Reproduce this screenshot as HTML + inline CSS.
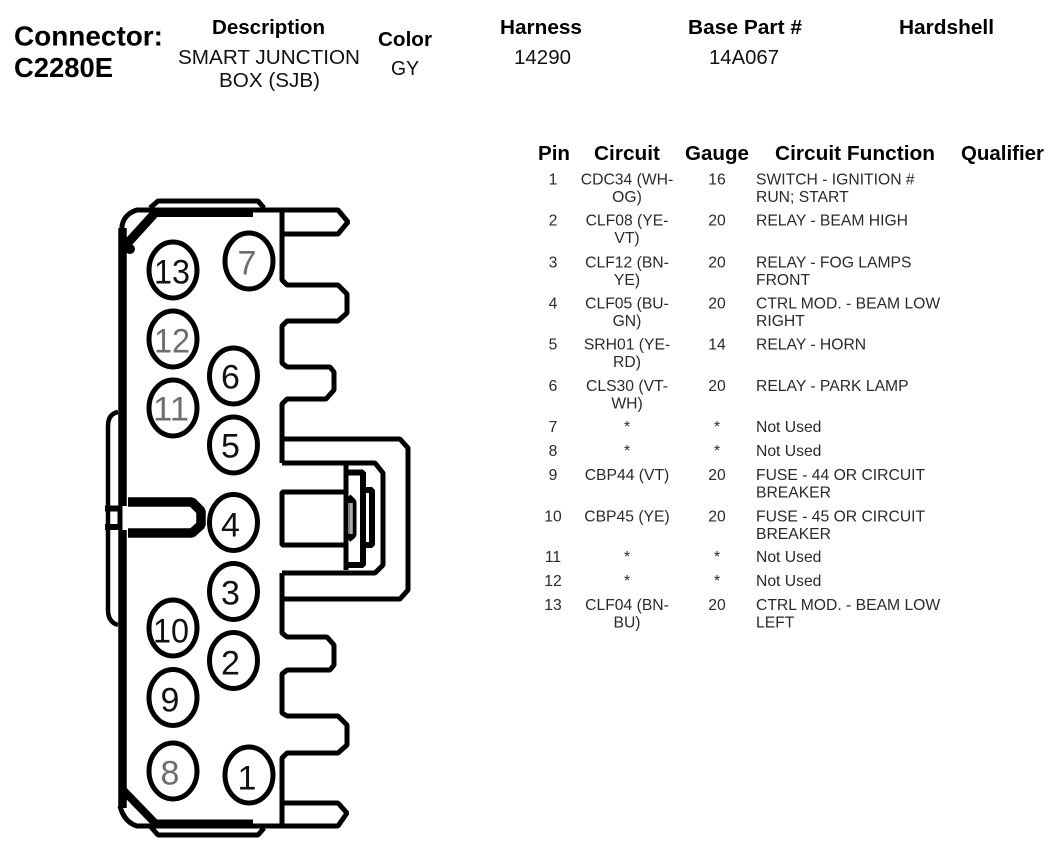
<!DOCTYPE html>
<html><head><meta charset="utf-8"><style>
html,body{margin:0;padding:0;background:#fff}
svg{display:block}
text{font-family:"Liberation Sans",Arial,sans-serif}
.h{font-weight:bold;font-size:20.5px;fill:#000}
.v{font-size:20.5px;fill:#111}
.t{font-size:15.7px;fill:#2a2a2a}
.m{text-anchor:middle}
.n{font-size:34px;text-anchor:middle;fill:#111}
.g{fill:#6e6e6e}
.l{fill:none;stroke:#000;stroke-width:5;stroke-linejoin:bevel}
.c{fill:#fff;stroke:#000;stroke-width:5}
</style></head><body>
<svg width="1058" height="854" viewBox="0 0 1058 854" xmlns="http://www.w3.org/2000/svg">
<rect width="1058" height="854" fill="#fff"/>
<text x="14" y="45.5" font-weight="bold" font-size="27.5" textLength="149" lengthAdjust="spacingAndGlyphs">Connector:</text>
<text x="14" y="77" font-weight="bold" font-size="27.5" textLength="99" lengthAdjust="spacingAndGlyphs">C2280E</text>
<text class="h" x="212" y="34" textLength="113" lengthAdjust="spacingAndGlyphs">Description</text>
<text class="v" x="178" y="64" textLength="182" lengthAdjust="spacingAndGlyphs">SMART JUNCTION</text>
<text class="v" x="219" y="87" textLength="101" lengthAdjust="spacingAndGlyphs">BOX (SJB)</text>
<text class="h" x="378" y="46" textLength="54" lengthAdjust="spacingAndGlyphs">Color</text>
<text class="v" x="391" y="75" textLength="28" lengthAdjust="spacingAndGlyphs">GY</text>
<text class="h" x="500" y="34" textLength="82" lengthAdjust="spacingAndGlyphs">Harness</text>
<text class="v" x="514" y="64" textLength="57" lengthAdjust="spacingAndGlyphs">14290</text>
<text class="h" x="688" y="34" textLength="114" lengthAdjust="spacingAndGlyphs">Base Part #</text>
<text class="v" x="709" y="64" textLength="70" lengthAdjust="spacingAndGlyphs">14A067</text>
<text class="h" x="899" y="34" textLength="95" lengthAdjust="spacingAndGlyphs">Hardshell</text>

<text class="h" x="538" y="160" textLength="32" lengthAdjust="spacingAndGlyphs">Pin</text>
<text class="h" x="594" y="160" textLength="66" lengthAdjust="spacingAndGlyphs">Circuit</text>
<text class="h" x="685" y="160" textLength="64" lengthAdjust="spacingAndGlyphs">Gauge</text>
<text class="h" x="775" y="160" textLength="160" lengthAdjust="spacingAndGlyphs">Circuit Function</text>
<text class="h" x="961" y="160" textLength="83" lengthAdjust="spacingAndGlyphs">Qualifier</text>

<g>
<text class="t m" x="553" y="184.5">1</text><text class="t m" x="627" y="184.5">CDC34 (WH-</text><text class="t m" x="627" y="201.8">OG)</text><text class="t m" x="717" y="184.5">16</text><text class="t" x="756" y="184.5">SWITCH - IGNITION #</text><text class="t" x="756" y="201.8">RUN; START</text>
<text class="t m" x="553" y="225.5">2</text><text class="t m" x="627" y="225.5">CLF08 (YE-</text><text class="t m" x="627" y="243">VT)</text><text class="t m" x="717" y="225.5">20</text><text class="t" x="756" y="225.5">RELAY - BEAM HIGH</text>
<text class="t m" x="553" y="267.5">3</text><text class="t m" x="627" y="267.5">CLF12 (BN-</text><text class="t m" x="627" y="284.8">YE)</text><text class="t m" x="717" y="267.5">20</text><text class="t" x="756" y="267.5">RELAY - FOG LAMPS</text><text class="t" x="756" y="284.8">FRONT</text>
<text class="t m" x="553" y="308.5">4</text><text class="t m" x="627" y="308.5">CLF05 (BU-</text><text class="t m" x="627" y="325.8">GN)</text><text class="t m" x="717" y="308.5">20</text><text class="t" x="756" y="308.5">CTRL MOD. - BEAM LOW</text><text class="t" x="756" y="325.8">RIGHT</text>
<text class="t m" x="553" y="349.5">5</text><text class="t m" x="627" y="349.5">SRH01 (YE-</text><text class="t m" x="627" y="367">RD)</text><text class="t m" x="717" y="349.5">14</text><text class="t" x="756" y="349.5">RELAY - HORN</text>
<text class="t m" x="553" y="391">6</text><text class="t m" x="627" y="391">CLS30 (VT-</text><text class="t m" x="627" y="408.3">WH)</text><text class="t m" x="717" y="391">20</text><text class="t" x="756" y="391">RELAY - PARK LAMP</text>
<text class="t m" x="553" y="432">7</text><text class="t m" x="627" y="432">*</text><text class="t m" x="717" y="432">*</text><text class="t" x="756" y="432">Not Used</text>
<text class="t m" x="553" y="456">8</text><text class="t m" x="627" y="456">*</text><text class="t m" x="717" y="456">*</text><text class="t" x="756" y="456">Not Used</text>
<text class="t m" x="553" y="480">9</text><text class="t m" x="627" y="480">CBP44 (VT)</text><text class="t m" x="717" y="480">20</text><text class="t" x="756" y="480">FUSE - 44 OR CIRCUIT</text><text class="t" x="756" y="497.3">BREAKER</text>
<text class="t m" x="553" y="521.5">10</text><text class="t m" x="627" y="521.5">CBP45 (YE)</text><text class="t m" x="717" y="521.5">20</text><text class="t" x="756" y="521.5">FUSE - 45 OR CIRCUIT</text><text class="t" x="756" y="538.8">BREAKER</text>
<text class="t m" x="553" y="562">11</text><text class="t m" x="627" y="562">*</text><text class="t m" x="717" y="562">*</text><text class="t" x="756" y="562">Not Used</text>
<text class="t m" x="553" y="586">12</text><text class="t m" x="627" y="586">*</text><text class="t m" x="717" y="586">*</text><text class="t" x="756" y="586">Not Used</text>
<text class="t m" x="553" y="610">13</text><text class="t m" x="627" y="610">CLF04 (BN-</text><text class="t m" x="627" y="627.5">BU)</text><text class="t m" x="717" y="610">20</text><text class="t" x="756" y="610">CTRL MOD. - BEAM LOW</text><text class="t" x="756" y="627.5">LEFT</text>
</g>

<!-- connector outline -->
<path class="l" d="M122 230 L122 226 Q124 214 137 210 L338 210 L348 222 L338 234 L283 234"/>
<path class="l" d="M282 212 L282 280 L287 285 L338 285 L347 294 L347 313 L338 321 L287 321 L282 326 L282 363 L287 367 L330 367 L334 372 L334 390 L326 399 L287 399 L282 404 L282 463"/>
<path class="l" d="M282 439 L400 439 L408 448 L408 590 L400 599 L282 599"/>
<path class="l" d="M282 463 L375 463 L383 473 L383 565 L375 573 L282 573"/>
<path class="l" d="M347 492 L282 492 L282 545 L347 545"/>
<path class="l" d="M282 573 L282 633 L287 637 L327 637 L334 645 L334 665 L330 670 L287 670 L282 674 L282 713 L287 716 L338 716 L347 725 L347 745 L338 753 L287 753 L282 758 L282 824"/>
<path class="l" d="M283 803 L338 803 L347 813 L338 826 L137 826 Q124 822 120 806"/>
<!-- latch -->
<path class="l" d="M346 463 L346 570"/>
<path class="l" style="stroke-width:6" d="M348 472.5 L363 472.5 L363 565 L348 565"/>
<path class="l" style="stroke-width:6" d="M363 490 L372 490 L372 545 L363 545"/>
<path class="l" style="stroke-width:7" d="M348 497 L353 502 L353 535 L348 539"/>
<rect x="350" y="503" width="2.8" height="31" fill="#aaa"/>
<!-- thick left wall -->
<path d="M122.5 228 L122.5 506" stroke="#000" stroke-width="8.5" fill="none"/>
<path d="M122.5 530 L122.5 808" stroke="#000" stroke-width="8.5" fill="none"/>
<path d="M120 506 L120 530" stroke="#000" stroke-width="5" fill="none"/>
<path d="M125 246 L155 213" stroke="#000" stroke-width="9" fill="none"/>
<circle cx="130" cy="249" r="5" fill="#000"/>
<path d="M153 212.5 L253 212.5" stroke="#000" stroke-width="9" fill="none"/>
<path class="l" d="M150 208 L158 201 L258 201 L264 208"/>
<path d="M123 790 L155 823" stroke="#000" stroke-width="8" fill="none"/>
<path d="M153 823.5 L253 823.5" stroke="#000" stroke-width="8" fill="none"/>
<path class="l" d="M150 826 L158 835 L258 835 L264 828"/>
<!-- left tab and slot -->
<path class="l" style="stroke-width:4.5" d="M118 412 Q108 414 108 426 L108 610 Q108 622 118 625"/>
<path d="M128 502 L192 502 L201 511 L201 525 L192 533 L128 533" fill="none" stroke="#000" stroke-width="9.5" stroke-linejoin="bevel"/>
<path d="M105 508.5 L122 508.5 M105 527 L122 527" stroke="#000" stroke-width="6"/>

<ellipse class="c" cx="173" cy="270" rx="24" ry="28"/><text class="n" x="172" y="283.5" textLength="36" lengthAdjust="spacingAndGlyphs">13</text>
<ellipse class="c" cx="249" cy="261" rx="24" ry="28"/><text class="n g" x="247" y="274.5">7</text>
<ellipse class="c" cx="173" cy="339" rx="24" ry="28"/><text class="n g" x="172" y="352.5" textLength="36" lengthAdjust="spacingAndGlyphs">12</text>
<ellipse class="c" cx="233.5" cy="376" rx="24" ry="28"/><text class="n" x="230.5" y="388.5">6</text>
<ellipse class="c" cx="173" cy="408" rx="24" ry="28"/><text class="n g" x="171" y="420.5" textLength="36" lengthAdjust="spacingAndGlyphs">11</text>
<ellipse class="c" cx="233.5" cy="445" rx="24" ry="28"/><text class="n" x="230.5" y="457.5">5</text>
<ellipse class="c" cx="233.5" cy="522.5" rx="24" ry="28"/><text class="n" x="230.5" y="536.5">4</text>
<ellipse class="c" cx="233.5" cy="591.5" rx="24" ry="28"/><text class="n" x="230.5" y="604.5">3</text>
<ellipse class="c" cx="173" cy="628" rx="24" ry="28"/><text class="n" x="171" y="642.5" textLength="36" lengthAdjust="spacingAndGlyphs">10</text>
<ellipse class="c" cx="233.5" cy="660.5" rx="24" ry="28"/><text class="n" x="230.5" y="674.5">2</text>
<ellipse class="c" cx="173" cy="697.5" rx="24" ry="28"/><text class="n" x="170" y="711.5">9</text>
<ellipse class="c" cx="173" cy="771" rx="24" ry="28"/><text class="n g" x="170" y="784.5">8</text>
<ellipse class="c" cx="249" cy="775" rx="24" ry="28"/><text class="n" x="247" y="789.5">1</text>
</svg>
</body></html>
